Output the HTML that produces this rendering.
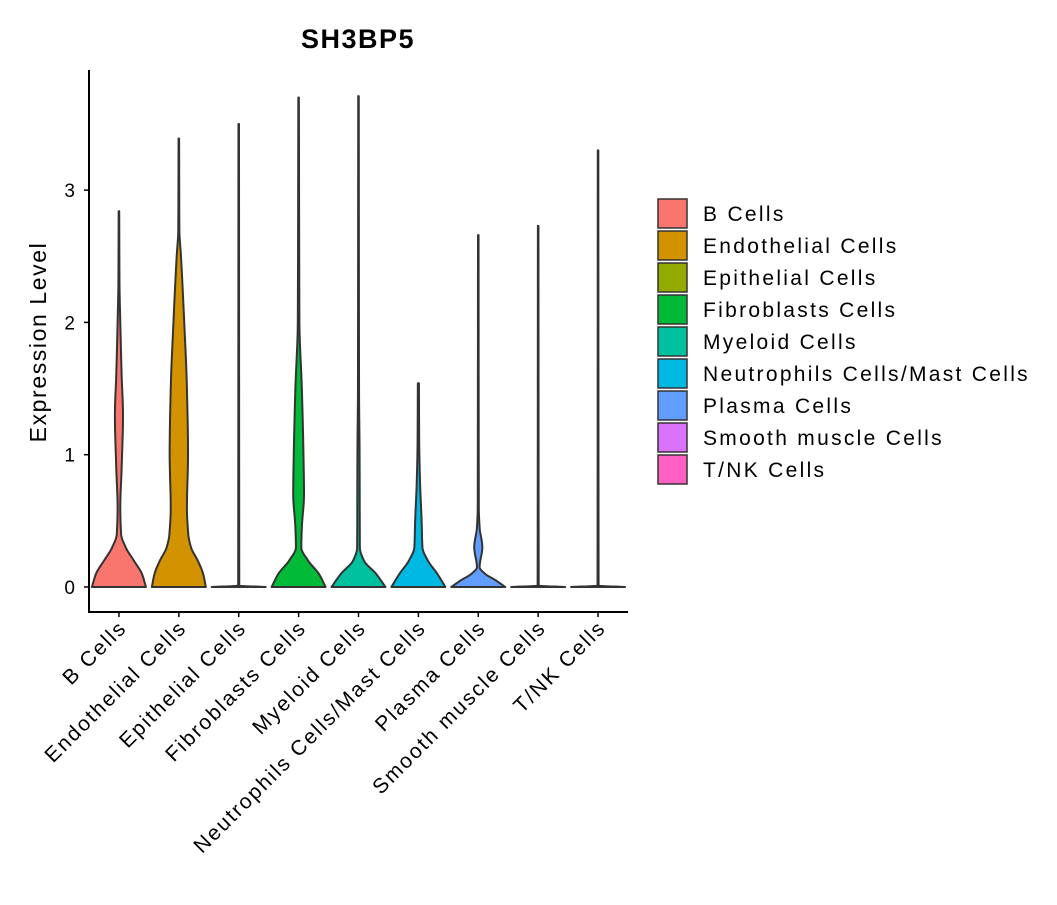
<!DOCTYPE html>
<html><head><meta charset="utf-8"><style>
body{margin:0;background:#fff;}
svg text{font-family:"Liberation Sans",sans-serif;}
</style></head><body>
<svg id="chart" width="1057" height="900" xmlns="http://www.w3.org/2000/svg">
<text x="358" y="48" text-anchor="middle" font-size="27" font-weight="bold" letter-spacing="1.5">SH3BP5</text>
<text transform="translate(46,342) rotate(-90)" text-anchor="middle" font-size="23" letter-spacing="1.6">Expression Level</text>
<g id="plot"></g>
<g id="legend"></g>
</svg>
<script>
const categories=["B Cells","Endothelial Cells","Epithelial Cells","Fibroblasts Cells","Myeloid Cells","Neutrophils Cells/Mast Cells","Plasma Cells","Smooth muscle Cells","T/NK Cells"];
const colors=["#F8766D","#D39200","#93AA00","#00BA38","#00C19F","#00B9E3","#619CFF","#DB72FB","#FF61C3"];
const yTicks=[0,1,2,3];
// density profiles: [value, relative density]
const profB=[[0,1],[0.1,0.85],[0.2,0.55],[0.3,0.25],[0.4,0.08],[0.6,0.05],[0.9,0.1],[1.3,0.15],[1.6,0.1],[2.0,0.05],[2.3,0.02],[2.84,0.01]];
const profEndo=[[0,1],[0.1,0.9],[0.2,0.7],[0.3,0.45],[0.4,0.35],[0.6,0.3],[1.0,0.34],[1.5,0.3],[2.0,0.2],[2.5,0.08],[2.7,0.02],[3.39,0.01]];
const profEpi=[[0,1],[0.01,0.02],[3.5,0.01]];
const profFib=[[0,1],[0.1,0.75],[0.2,0.35],[0.3,0.1],[0.45,0.12],[0.7,0.2],[1.0,0.18],[1.5,0.12],[2.0,0.03],[3.7,0.01]];
const profMye=[[0,1],[0.1,0.65],[0.2,0.2],[0.3,0.05],[1.0,0.04],[1.5,0.02],[3.71,0.01]];
const profNeu=[[0,1],[0.1,0.7],[0.2,0.35],[0.3,0.15],[0.5,0.12],[0.8,0.06],[1.1,0.03],[1.54,0.02]];
const profPla=[[0,1],[0.05,0.65],[0.1,0.25],[0.15,0.05],[0.3,0.15],[0.45,0.05],[0.6,0.02],[2.66,0.01]];
const profSmo=[[0,1],[0.01,0.02],[2.73,0.01]];
const profTNK=[[0,1],[0.01,0.02],[3.3,0.01]];
const profiles=[profB,profEndo,profEpi,profFib,profMye,profNeu,profPla,profSmo,profTNK];

const NS="http://www.w3.org/2000/svg";
const X0=89,X1=628,Y0=612,Y1=70;
const yScale=v=>587-v*132.3;
const step=(X1-X0)/categories.length;
const xScale=i=>X0+step*(i+0.5);
const HW=27;
const plot=document.getElementById('plot');
function mk(tag,attrs,parent){const e=document.createElementNS(NS,tag);for(const k in attrs)e.setAttribute(k,attrs[k]);parent.appendChild(e);return e;}
// monotone cubic sampling of density vs value
function sample(prof){
  const n=prof.length,xs=prof.map(p=>p[0]),ys=prof.map(p=>p[1]);
  const d=[],m=[];
  for(let i=0;i<n-1;i++)d.push((ys[i+1]-ys[i])/(xs[i+1]-xs[i]));
  m[0]=d[0];m[n-1]=d[n-2];
  for(let i=1;i<n-1;i++)m[i]=(d[i-1]*d[i]<=0)?0:2/(1/d[i-1]+1/d[i]);
  const out=[];
  for(let i=0;i<n-1;i++){
    const h=xs[i+1]-xs[i];
    for(let k=0;k<12;k++){
      const t=k/12,t2=t*t,t3=t2*t;
      const v=(2*t3-3*t2+1)*ys[i]+(t3-2*t2+t)*h*m[i]+(-2*t3+3*t2)*ys[i+1]+(t3-t2)*h*m[i+1];
      out.push([xs[i]+t*h,Math.max(0,v)]);
    }
  }
  out.push([xs[n-1],ys[n-1]]);
  return out;
}
profiles.forEach((prof,i)=>{
  const cx=xScale(i);
  const s=sample(prof);
  const right=s.map(p=>[cx+p[1]*HW,yScale(p[0])]);
  const left=s.slice().reverse().map(p=>[cx-p[1]*HW,yScale(p[0])]);
  const pts=right.concat(left);
  const d="M"+pts.map(p=>p[0].toFixed(2)+","+p[1].toFixed(2)).join(" L")+" Z";
  const v=mk('path',{d:d,fill:colors[i],stroke:'#333',"stroke-width":2,"stroke-linejoin":"round"},plot);
  
  
  const t=mk('text',{transform:`translate(${cx+9},${Y0+17}) rotate(-45)`,"text-anchor":"end","font-size":21,"letter-spacing":2},plot);
  t.textContent=categories[i];
  
  
  mk('line',{x1:cx,x2:cx,y1:Y0,y2:Y0+5,stroke:'#000',"stroke-width":1.5},plot);
});
const ax=mk('path',{d:`M${X0},${Y1} V${Y0} H${X1}`,fill:'none',stroke:'#000',"stroke-width":2},plot);


yTicks.forEach(v=>{
  const y=yScale(v);
  mk('line',{x1:X0-5,x2:X0,y1:y,y2:y,stroke:'#000',"stroke-width":1.5},plot);
  const t=mk('text',{x:X0-14,y:y+7,"text-anchor":"end","font-size":19},plot);
  t.textContent=v;
  
  
});
const lg=document.getElementById('legend');


categories.forEach((c,i)=>{
  const y=199+i*32;
  const r=mk('rect',{x:658,y:y,width:29,height:29,fill:colors[i],stroke:'#333',"stroke-width":1.5},lg);
  
  
  const t=mk('text',{x:703,y:y+22,"font-size":21,"letter-spacing":2.3},lg);
  t.textContent=c;
  
  
});
</script>
</body></html>
